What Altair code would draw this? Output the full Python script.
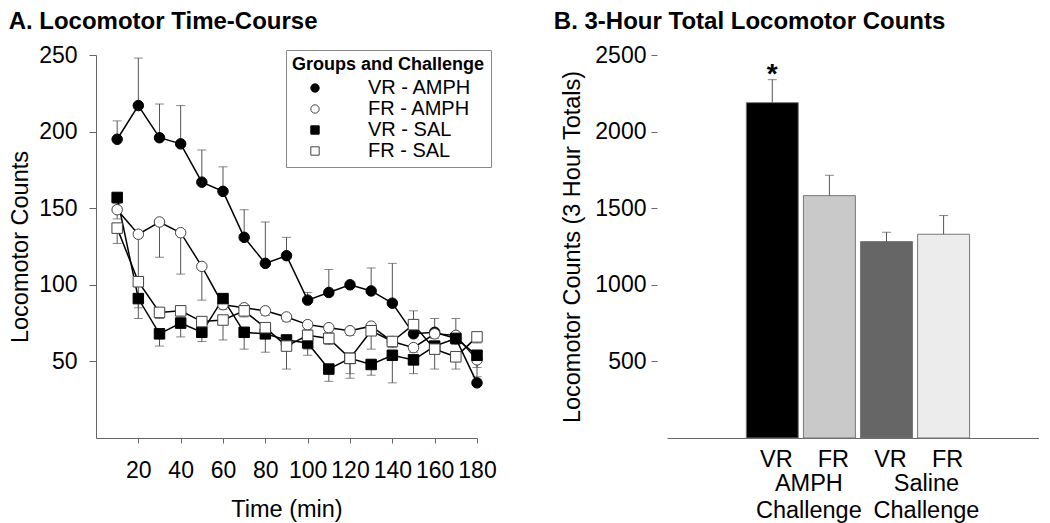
import json
import altair as alt
import pandas as pd

FONT = "Liberation Sans"

# ---------------- Panel A data ----------------
time_min = [10, 20, 30, 40, 50, 60, 70, 80, 90, 100, 110, 120, 130, 140, 150, 160, 170, 180]
time_ticks = [20, 40, 60, 80, 100, 120, 140, 160, 180]
count_ticks = [50, 100, 150, 200, 250]

series_names = ["VR - AMPH", "FR - AMPH", "VR - SAL", "FR - SAL"]
series_fill = ["black", "white", "black", "white"]
series_stroke = ["black", "#444444", "black", "#444444"]
series_shape = ["circle", "circle", "square", "square"]

vr_amph = [195, 217, 196, 192, 167, 161, 131, 114, 119, 90, 95, 100, 96, 88, 68, 69, 65, 36]
vr_amph_err = [12, 31, 22, 25, 21, 16, 18, 27, 12, 5, 15, 0, 15, 26, 15, 9, 13, 0]
fr_amph = [149, 133, 141, 134, 112, 87, 85, 83, 79, 74, 72, 70, 73, 63, 59, 68, 67, 51]
fr_amph_err = [-6, -30, -23, -27, -22, -3, -3, -3, -3, -3, -3, -3, -3, -3, -3, -3, -3, -5]
vr_sal = [157, 91, 68, 75, 69, 91, 69, 68, 64, 62, 45, 52, 48, 54, 51, 60, 65, 54]
vr_sal_err = [-4, -13, -8, -9, -6, -3, -11, -12, -4, -4, -8, -13, -7, -18, -9, -4, -4, -14]
fr_sal = [137, 102, 82, 83, 76, 77, 83, 72, 60, 67, 65, 52, 70, 63, 74, 58, 53, 66]
fr_sal_err = [-10, -17, -4, -4, -4, -13, -4, -4, -15, -13, -4, -10, -12, -4, -4, -13, -8, -4]

series_values = [vr_amph, fr_amph, vr_sal, fr_sal]
series_errs = [vr_amph_err, fr_amph_err, vr_sal_err, fr_sal_err]

rows = []
for name, vals, errs in zip(series_names, series_values, series_errs):
    for t, v, e in zip(time_min, vals, errs):
        rows.append({"time": t, "group": name, "value": v, "end": v + e})
df_a = pd.DataFrame(rows)

# ---------------- Panel B data ----------------
bar_names = ["VR AMPH", "FR AMPH", "VR SAL", "FR SAL"]
bar_labels = ["VR", "FR", "VR", "FR"]
bar_pos = [1, 2, 3, 4]
bar_totals = [2189, 1582, 1282, 1330]
bar_errs = [150, 133, 61, 122]
bar_colors = ["#000000", "#c9c9c9", "#666666", "#ececec"]
total_ticks = [500, 1000, 1500, 2000, 2500]
group_pos = [1.64, 3.70]
group_text = ["AMPH\nChallenge", "Saline\nChallenge"]
star_text = ["*", "", "", ""]

half = 0.455
df_b = pd.DataFrame({
    "name": bar_names,
    "pos": bar_pos,
    "lo": [p - half for p in bar_pos],
    "hi": [p + half for p in bar_pos],
    "total": bar_totals,
    "top": [t + e for t, e in zip(bar_totals, bar_errs)],
    "star": star_text,
})
df_g = pd.DataFrame({"gpos": group_pos, "label": group_text})

# ---------------- Panel A chart ----------------
W1, H1 = 381, 383
xs1 = alt.Scale(domain=[0, 180], nice=False, zero=False)
ys1 = alt.Scale(domain=[0, 250], nice=False)
x_axis1 = alt.Axis(values=time_ticks, title="Time (min)", tickSize=5, labelOverlap=False,
                   labelFlush=False, labelPadding=16, titlePadding=15)
y_axis1 = alt.Axis(values=count_ticks, title="Locomotor Counts", tickSize=7,
                   labelPadding=12, titlePadding=6)

baseA = alt.Chart(df_a)
xA = alt.X("time:Q", scale=xs1, axis=x_axis1)

err_rules = baseA.mark_rule(color="#555555", strokeWidth=1).encode(
    x=xA, y=alt.Y("value:Q", scale=ys1, axis=y_axis1), y2="end:Q")
err_caps = baseA.mark_tick(color="#555555", thickness=1, size=9, orient="horizontal").encode(
    x=xA, y=alt.Y("end:Q", scale=ys1, axis=y_axis1))
lines = baseA.mark_line(color="black", strokeWidth=1.5).encode(
    x=xA, y=alt.Y("value:Q", scale=ys1, axis=y_axis1), detail="group:N")

leg = alt.Legend(title="Groups and Challenge", orient="none", legendX=190, legendY=-5,
                 strokeColor="#888888", fillColor="white", padding=6,
                 titleFontSize=18, titleFontWeight="bold", titleFont=FONT, titleColor="black",
                 titleAnchor="middle", titlePadding=4, titleLimit=400,
                 labelFontSize=20, labelFont=FONT, labelColor="black", labelLimit=300,
                 symbolOffset=0, labelOffset=43, rowPadding=1, symbolSize=70,
                 symbolStrokeWidth=1)

points = baseA.mark_point(filled=True, size=110, strokeWidth=1, opacity=1).encode(
    x=xA,
    y=alt.Y("value:Q", scale=ys1, axis=y_axis1),
    shape=alt.Shape("group:N", scale=alt.Scale(domain=series_names, range=series_shape), legend=leg),
    fill=alt.Fill("group:N", scale=alt.Scale(domain=series_names, range=series_fill), legend=leg),
    stroke=alt.Stroke("group:N", scale=alt.Scale(domain=series_names, range=series_stroke), legend=leg),
)

panel_a = alt.layer(err_rules, err_caps, lines, points).properties(
    width=W1, height=H1,
    title=alt.Title("A. Locomotor Time-Course", anchor="start", offset=10),
)

# ---------------- Panel B chart ----------------
W2, H2 = 372, 383
step = 57.1
x0 = 1 - 105.3 / step
xs2 = alt.Scale(domain=[x0, x0 + W2 / step], nice=False, zero=False)
ys2 = alt.Scale(domain=[0, 2500], nice=False)
label_expr = json.dumps(bar_labels) + "[datum.value - 1]"
x_axis2 = alt.Axis(values=bar_pos, labelExpr=label_expr, ticks=False, labelPadding=9,
                   labelOffset=3.5, title=None, labelFontSize=23.5, domain=True,
                   labelFlush=False)
y_axis2 = alt.Axis(values=total_ticks, format="d", title="Locomotor Counts (3 Hour Totals)",
                   domain=False, offset=10, tickSize=6, labelPadding=5, titlePadding=10)

baseB = alt.Chart(df_b)
bars = baseB.mark_bar(stroke="#777777", strokeWidth=1).encode(
    x=alt.X("lo:Q", scale=xs2, axis=x_axis2), x2="hi:Q",
    y=alt.Y("total:Q", scale=ys2, axis=y_axis2), y2=alt.datum(0),
    fill=alt.Fill("name:N", scale=alt.Scale(domain=bar_names, range=bar_colors), legend=None),
)
b_rules = baseB.mark_rule(color="#555555", strokeWidth=1).encode(
    x=alt.X("pos:Q", scale=xs2, axis=x_axis2),
    y=alt.Y("total:Q", scale=ys2, axis=y_axis2), y2="top:Q")
b_caps = baseB.mark_tick(color="#555555", thickness=1, size=9, orient="horizontal").encode(
    x=alt.X("pos:Q", scale=xs2, axis=x_axis2),
    y=alt.Y("top:Q", scale=ys2, axis=y_axis2))
b_star = baseB.mark_text(font=FONT, fontSize=28, fontWeight="bold", baseline="alphabetic",
                         dy=3, color="black").encode(
    x=alt.X("pos:Q", scale=xs2, axis=x_axis2),
    y=alt.Y("top:Q", scale=ys2, axis=y_axis2),
    text="star:N")
g_text = alt.Chart(df_g).mark_text(font=FONT, fontSize=23.5, baseline="top", align="center",
                                   lineBreak="\n", lineHeight=26.7, color="black").encode(
    x=alt.X("gpos:Q", scale=xs2, axis=x_axis2),
    y=alt.value(H2 + 34),
    text="label:N")

panel_b = alt.layer(bars, b_rules, b_caps, b_star, g_text).properties(
    width=W2, height=H2,
    title=alt.Title("B. 3-Hour Total Locomotor Counts", anchor="start", offset=10, dx=-7),
)

chart = alt.hconcat(panel_a, panel_b, spacing=190, bounds="flush").resolve_scale(
    fill="independent", shape="independent", stroke="independent",
    x="independent", y="independent"
).resolve_legend(fill="independent", shape="independent", stroke="independent").properties(
    padding={"top": 2, "left": 0, "right": 0, "bottom": 0}
).configure_view(stroke=None).configure_axis(
    labelFont=FONT, titleFont=FONT, labelColor="black", titleColor="black",
    domainColor="#666666", tickColor="#666666", grid=False,
    labelFontSize=23, titleFontSize=23.5, titleFontWeight="normal",
).configure_title(
    font=FONT, fontSize=24, fontWeight="bold", color="black", anchor="start"
)

chart.save("out.html", embed_options={"renderer": "svg", "actions": False})
